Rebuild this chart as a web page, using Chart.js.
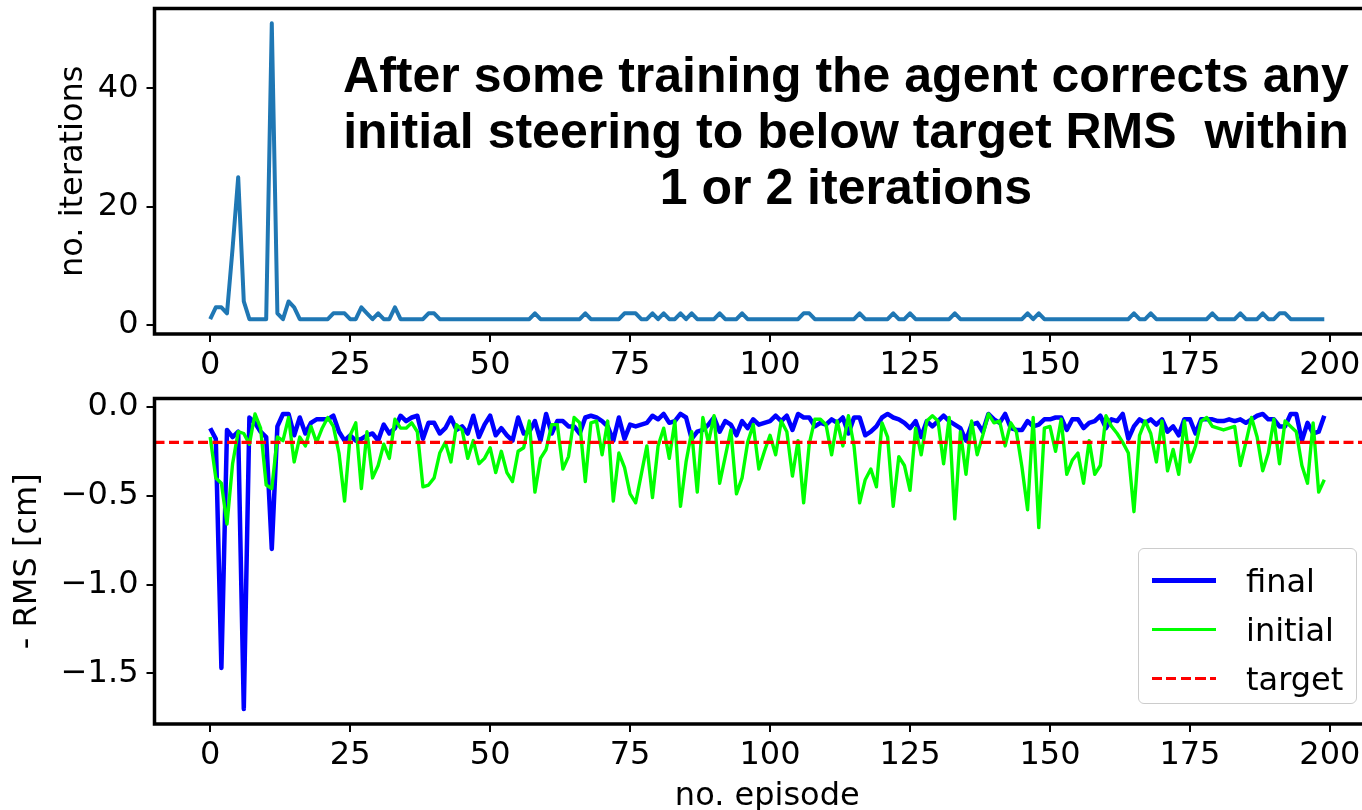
<!DOCTYPE html>
<html>
<head>
<meta charset="utf-8">
<script src="https://cdn.jsdelivr.net/npm/chart.js@4.4.1/dist/chart.umd.min.js"></script>
<style>
  html, body { margin: 0; padding: 0; background: #fff; }
  body { width: 1362px; height: 810px; overflow: hidden; position: relative; }
  .panel { position: absolute; left: 0; }
  #note {
    position: absolute; left: 246px; top: 47px; width: 1200px;
    text-align: center; white-space: pre;
    font: bold 50px "Liberation Sans", Arial, sans-serif; line-height: 56px; color: #000;
  }
  #legend {
    position: absolute; left: 1138px; top: 548px; width: 219px; height: 156px;
    border: 1px solid #ccc; border-radius: 6px; background: rgba(255,255,255,0.8);
    font: 32px "DejaVu Sans", sans-serif; color: #000; padding-top: 7px; box-sizing: border-box;
  }
  .row { display: flex; align-items: center; height: 49px; }
  .handle { width: 64px; margin-left: 13px; }
  .row span.txt { margin-left: 30px; }
</style>
</head>
<body>
<div class="panel" style="top:0"><canvas id="top" width="1400" height="392"></canvas></div>
<div class="panel" style="top:390px"><canvas id="bottom" width="1400" height="430"></canvas></div>
<div id="note"></div>
<div id="legend"></div>
<script>
// data
const noteLines = [
  'After some training the agent corrects any',
  'initial steering to below target RMS  within',
  '1 or 2 iterations'
];
const episodeTicks = [0, 25, 50, 75, 100, 125, 150, 175, 200];
const iterTicks = [0, 20, 40];
const rmsTicks = [0, -0.5, -1, -1.5];
const seriesNames = ['final', 'initial', 'target'];
const target = -0.2;

const iterations = [
  1, 3, 3, 2, 13, 25, 4, 1, 1, 1, 1, 51, 2, 1, 4, 3, 1, 1, 1, 1,
  1, 1, 2, 2, 2, 1, 1, 3, 2, 1, 2, 1, 1, 3, 1, 1, 1, 1, 1, 2,
  2, 1, 1, 1, 1, 1, 1, 1, 1, 1, 1, 1, 1, 1, 1, 1, 1, 1, 2, 1,
  1, 1, 1, 1, 1, 1, 1, 2, 1, 1, 1, 1, 1, 1, 2, 2, 2, 1, 1, 2,
  1, 2, 1, 1, 2, 1, 2, 1, 1, 1, 1, 2, 1, 1, 1, 2, 1, 1, 1, 1,
  1, 1, 1, 1, 1, 1, 2, 2, 1, 1, 1, 1, 1, 1, 1, 1, 2, 1, 1, 1,
  1, 1, 2, 1, 1, 2, 1, 1, 1, 1, 1, 1, 1, 2, 1, 1, 1, 1, 1, 1,
  1, 1, 1, 1, 1, 1, 2, 1, 2, 1, 1, 1, 1, 1, 1, 1, 1, 1, 1, 1,
  1, 1, 1, 1, 1, 2, 1, 1, 2, 1, 1, 1, 1, 1, 1, 1, 1, 1, 1, 2,
  1, 1, 1, 1, 2, 1, 1, 1, 2, 1, 1, 2, 2, 1, 1, 1, 1, 1, 1, 1
];

const finalRms = [
  -0.12, -0.18, -1.47, -0.13, -0.17, -0.14, -1.70, -0.06, -0.09, -0.14,
  -0.17, -0.80, -0.11, -0.04, -0.04, -0.16, -0.06, -0.15, -0.09, -0.07,
  -0.07, -0.07, -0.05, -0.14, -0.19, -0.16, -0.19, -0.18, -0.16, -0.15,
  -0.19, -0.10, -0.15, -0.12, -0.05, -0.08, -0.06, -0.05, -0.18, -0.09,
  -0.09, -0.15, -0.12, -0.06, -0.13, -0.11, -0.15, -0.05, -0.17, -0.10,
  -0.05, -0.16, -0.12, -0.16, -0.19, -0.06, -0.15, -0.14, -0.08, -0.19,
  -0.04, -0.15, -0.08, -0.08, -0.11, -0.11, -0.15, -0.06, -0.05, -0.06,
  -0.08, -0.11, -0.19, -0.06, -0.18, -0.10, -0.11, -0.10, -0.09, -0.05,
  -0.07, -0.04, -0.09, -0.08, -0.04, -0.06, -0.18, -0.14, -0.13, -0.10,
  -0.06, -0.14, -0.08, -0.10, -0.16, -0.08, -0.12, -0.07, -0.10, -0.09,
  -0.08, -0.05, -0.08, -0.05, -0.13, -0.04, -0.06, -0.06, -0.11, -0.09,
  -0.10, -0.07, -0.09, -0.06, -0.15, -0.06, -0.06, -0.16, -0.14, -0.11,
  -0.06, -0.04, -0.06, -0.07, -0.09, -0.12, -0.08, -0.17, -0.08, -0.11,
  -0.08, -0.05, -0.08, -0.10, -0.12, -0.19, -0.10, -0.09, -0.14, -0.04,
  -0.07, -0.09, -0.04, -0.12, -0.13, -0.13, -0.08, -0.11, -0.10, -0.07,
  -0.07, -0.06, -0.06, -0.13, -0.07, -0.07, -0.12, -0.09, -0.08, -0.05,
  -0.12, -0.07, -0.08, -0.04, -0.18, -0.11, -0.07, -0.09, -0.07, -0.10,
  -0.07, -0.14, -0.11, -0.16, -0.07, -0.07, -0.15, -0.07, -0.07, -0.07,
  -0.08, -0.08, -0.07, -0.08, -0.07, -0.09, -0.07, -0.05, -0.04, -0.07,
  -0.07, -0.11, -0.11, -0.04, -0.04, -0.19, -0.09, -0.15, -0.14, -0.05
];

const initialRms = [
  -0.17, -0.40, -0.43, -0.66, -0.32, -0.14, -0.15, -0.21, -0.04, -0.12,
  -0.44, -0.46, -0.17, -0.19, -0.06, -0.31, -0.17, -0.22, -0.11, -0.20,
  -0.12, -0.06, -0.11, -0.26, -0.53, -0.16, -0.09, -0.46, -0.14, -0.40,
  -0.33, -0.21, -0.29, -0.07, -0.12, -0.12, -0.09, -0.14, -0.45, -0.44,
  -0.40, -0.26, -0.20, -0.31, -0.10, -0.13, -0.29, -0.19, -0.32, -0.29,
  -0.23, -0.37, -0.25, -0.37, -0.42, -0.25, -0.23, -0.08, -0.48, -0.29,
  -0.24, -0.10, -0.10, -0.35, -0.28, -0.06, -0.09, -0.42, -0.09, -0.08,
  -0.27, -0.08, -0.53, -0.26, -0.34, -0.49, -0.54, -0.38, -0.22, -0.51,
  -0.22, -0.12, -0.29, -0.08, -0.56, -0.31, -0.14, -0.48, -0.06, -0.20,
  -0.05, -0.43, -0.28, -0.13, -0.49, -0.40, -0.20, -0.10, -0.35, -0.25,
  -0.16, -0.27, -0.08, -0.14, -0.39, -0.19, -0.54, -0.21, -0.07, -0.07,
  -0.10, -0.27, -0.08, -0.22, -0.05, -0.22, -0.54, -0.41, -0.35, -0.45,
  -0.09, -0.17, -0.56, -0.28, -0.33, -0.47, -0.12, -0.27, -0.08, -0.05,
  -0.08, -0.32, -0.06, -0.63, -0.14, -0.38, -0.08, -0.27, -0.16, -0.04,
  -0.09, -0.08, -0.22, -0.09, -0.14, -0.34, -0.58, -0.06, -0.68, -0.12,
  -0.11, -0.25, -0.07, -0.38, -0.30, -0.26, -0.43, -0.19, -0.38, -0.33,
  -0.05, -0.11, -0.15, -0.20, -0.26, -0.59, -0.16, -0.08, -0.15, -0.31,
  -0.08, -0.36, -0.24, -0.38, -0.08, -0.31, -0.22, -0.08, -0.06, -0.11,
  -0.12, -0.13, -0.12, -0.11, -0.33, -0.20, -0.06, -0.17, -0.36, -0.26,
  -0.07, -0.32, -0.08, -0.11, -0.14, -0.33, -0.43, -0.09, -0.48, -0.41
];

const episodes = iterations.map((_, i) => i);
const xMin = -9.95, xMax = 208.95;

const tickFont = { family: 'DejaVu Sans', size: 32 };
const toPoints = arr => arr.map((v, i) => ({ x: episodes[i], y: v }));
const minus = v => v === 0 ? '0.0' : v.toFixed(1).replace('-', '\u2212');

// black box round the plot area, drawn above the lines like matplotlib spines
const frame = {
  id: 'frame',
  afterDatasetsDraw(chart) {
    const { ctx, chartArea: a } = chart;
    ctx.save();
    ctx.lineWidth = 3.5;
    ctx.strokeStyle = '#000';
    ctx.strokeRect(a.left, a.top, a.right - a.left, a.bottom - a.top);
    ctx.restore();
  }
};

const tickGrid = { display: true, drawOnChartArea: false, drawTicks: true, tickLength: 8, color: '#000', lineWidth: 2 };

const xAxis = (height, title) => ({
  type: 'linear', min: xMin, max: xMax,
  grid: tickGrid, border: { display: false },
  afterBuildTicks: s => { s.ticks = episodeTicks.map(v => ({ value: v })); },
  afterFit: s => { s.height = height; s.paddingLeft = 0; s.paddingRight = 0; },
  ticks: { font: tickFont, color: '#000', padding: 4, maxRotation: 0, minRotation: 0, autoSkip: false },
  title: title ? { display: true, text: title, font: tickFont, color: '#000', padding: { top: 0, bottom: 4 } } : { display: false }
});

const yAxis = (min, max, ticks, width, fmt, title) => ({
  type: 'linear', min, max,
  grid: tickGrid, border: { display: false },
  afterBuildTicks: s => { s.ticks = ticks.map(v => ({ value: v })); },
  afterFit: s => { s.width = width; s.paddingTop = 0; s.paddingBottom = 0; },
  ticks: { font: tickFont, color: '#000', padding: 8, callback: fmt },
  title: { display: true, text: title, font: tickFont, color: '#000', padding: { top: 4, bottom: 4 } }
});

const common = {
  responsive: false,
  animation: false,
  plugins: { legend: { display: false }, tooltip: { enabled: false } },
  elements: { point: { radius: 0 }, line: { tension: 0, borderJoinStyle: 'round' } }
};

new Chart(document.getElementById('top'), {
  type: 'line',
  data: {
    datasets: [{
      data: toPoints(iterations), borderColor: '#1f77b4', borderWidth: 4
    }]
  },
  options: {
    ...common,
    layout: { padding: { left: 50, top: 8.5, right: 20, bottom: 0 } },
    scales: {
      x: xAxis(58),
      y: yAxis(-1.5, 53.5, iterTicks, 104.5, v => String(v), 'no. iterations')
    }
  },
  plugins: [frame]
});

const rmsChart = new Chart(document.getElementById('bottom'), {
  type: 'line',
  data: {
    datasets: [
      { label: seriesNames[0], data: toPoints(finalRms), borderColor: '#0000ff', borderWidth: 4.5, order: 2 },
      { label: seriesNames[1], data: toPoints(initialRms), borderColor: '#00ff00', borderWidth: 3.4, order: 1 },
      { label: seriesNames[2], data: [{ x: xMin, y: target }, { x: xMax, y: target }],
        borderColor: '#ff0000', borderWidth: 3.2, borderDash: [10, 4.5], order: 0 }
    ]
  },
  options: {
    ...common,
    layout: { padding: { left: 4, top: 8.5, right: 20, bottom: 0 } },
    scales: {
      x: xAxis(96, 'no. episode'),
      y: yAxis(-1.785, 0.047, rmsTicks, 150.5, minus, '- RMS [cm]')
    }
  },
  plugins: [frame]
});

document.getElementById('note').textContent = noteLines.join('\n');

// legend inside the lower plot, built from the datasets
const legend = document.getElementById('legend');
rmsChart.data.datasets.forEach(ds => {
  const row = document.createElement('div');
  row.className = 'row';
  const fill = ds.borderDash
    ? `repeating-linear-gradient(to right, ${ds.borderColor} 0 ${ds.borderDash[0]}px, transparent ${ds.borderDash[0]}px ${ds.borderDash[0] + ds.borderDash[1]}px)`
    : ds.borderColor;
  row.innerHTML = `<span class="handle" style="height:${ds.borderWidth}px;background:${fill}"></span><span class="txt">${ds.label}</span>`;
  legend.appendChild(row);
});
</script>
</body>
</html>
